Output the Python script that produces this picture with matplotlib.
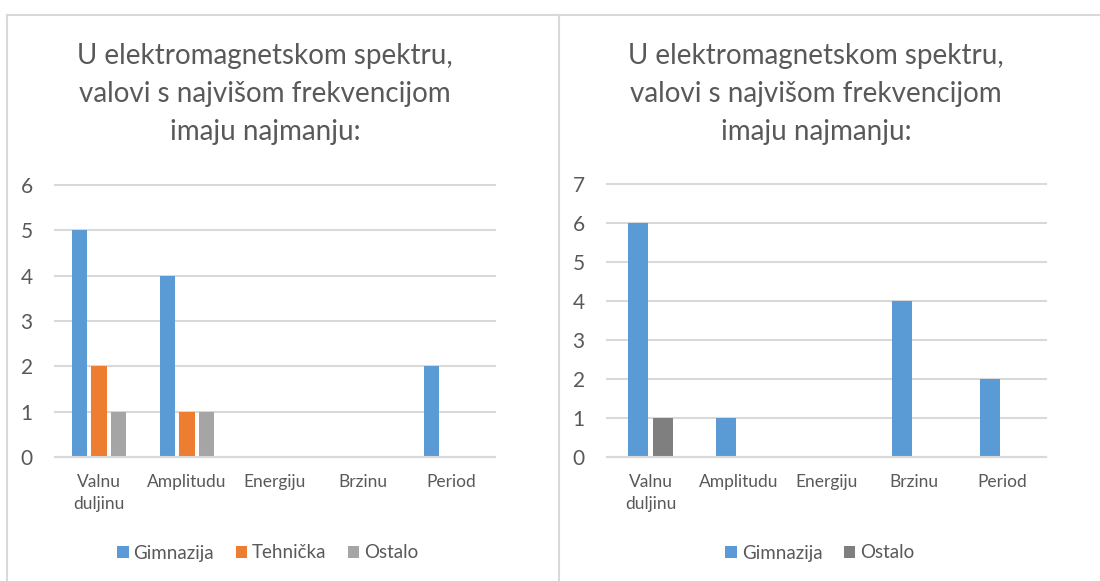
import matplotlib
matplotlib.use("Agg")
import matplotlib.pyplot as plt
from matplotlib.lines import Line2D
from matplotlib.patches import Patch
import numpy as np

plt.rcParams['font.family'] = ['Lato', 'DejaVu Sans']

title = "U elektromagnetskom spektru,\nvalovi s najvišom frekvencijom\nimaju najmanju:"
categories = ["Valnu\nduljinu", "Amplitudu", "Energiju", "Brzinu", "Period"]

left_series = ["Gimnazija", "Tehnička", "Ostalo"]
left_gimnazija = [5, 4, 0, 0, 2]
left_tehnicka = [2, 1, 0, 0, 0]
left_ostalo = [1, 1, 0, 0, 0]
left_colors = ["#5B9BD5", "#ED7D31", "#A5A5A5"]
left_ymax = 6

right_series = ["Gimnazija", "Ostalo"]
right_gimnazija = [6, 1, 0, 4, 2]
right_ostalo = [1, 0, 0, 0, 0]
right_colors = ["#5B9BD5", "#7F7F7F"]
right_ymax = 7

W, H = 1100, 581
fig = plt.figure(figsize=(W / 100, H / 100), dpi=100)
TXT = "#595959"
GRID = "#D9D9D9"

def fx(px):
    return px / W

def fy(py):
    return 1 - py / H

def make_axes(x0, x1, ytop, ybot):
    return fig.add_axes([fx(x0), fy(ybot), fx(x1 - x0), (ybot - ytop) / H])

def style(ax, ymax):
    ax.set_ylim(0, ymax)
    ax.set_xlim(-0.5, len(categories) - 0.5)
    ax.set_yticks(range(ymax + 1))
    ax.yaxis.grid(True, color=GRID, linewidth=1.5)
    ax.set_axisbelow(True)
    for s in ["top", "right", "left"]:
        ax.spines[s].set_visible(False)
    ax.spines["bottom"].set_color(GRID)
    ax.spines["bottom"].set_linewidth(1.5)
    ax.tick_params(axis="both", length=0, colors=TXT)
    ax.tick_params(axis="y", labelsize=15, pad=16)
    ax.tick_params(axis="x", labelsize=12.5, pad=12.5)
    ax.set_xticks(np.arange(len(categories)))
    ax.set_xticklabels(categories, linespacing=1.42)
    for g in ax.get_ygridlines():
        g.set_clip_on(False)

x = np.arange(len(categories))

# left chart
axl = make_axes(55, 495, 185, 457)
wl = 0.18
offl = [-0.222, 0, 0.222]
for vals, off, c, name in zip([left_gimnazija, left_tehnicka, left_ostalo], offl, left_colors, left_series):
    axl.bar(x + off, vals, width=wl, color=c, label=name)
style(axl, left_ymax)

# right chart
axr = make_axes(607, 1046, 184, 457)
wr = 0.227
offr = [-0.142, 0.142]
for vals, off, c, name in zip([right_gimnazija, right_ostalo], offr, right_colors, right_series):
    axr.bar(x + off, vals, width=wr, color=c, label=name)
style(axr, right_ymax)

# titles
fig.text(fx(265), fy(94), title, ha="center", va="center", fontsize=20, color=TXT, linespacing=1.55)
fig.text(fx(816), fy(94), title, ha="center", va="center", fontsize=20, color=TXT, linespacing=1.55)

# legends
def legend(names, colors, cx):
    handles = [Patch(facecolor=c, edgecolor="none") for c in colors]
    fig.legend(handles, names, loc="center", bbox_to_anchor=(fx(cx), fy(553)),
               ncol=len(names), frameon=False, fontsize=13.5, labelcolor=TXT,
               handlelength=0.6, handleheight=0.56, handletextpad=0.27, columnspacing=1.15,
               borderpad=0, borderaxespad=0)

legend(left_series, left_colors, 268)
legend(right_series, right_colors, 820)

# chart borders
for line in [
    Line2D([fx(7), fx(1100)], [fy(14.5), fy(14.5)]),
    Line2D([fx(7), fx(7)], [fy(14.5), fy(581)]),
    Line2D([fx(559), fx(559)], [fy(14.5), fy(581)]),
]:
    line.set_color(GRID)
    line.set_linewidth(1.5)
    line.set_transform(fig.transFigure)
    fig.add_artist(line)

fig.savefig("out.png", dpi=100)
